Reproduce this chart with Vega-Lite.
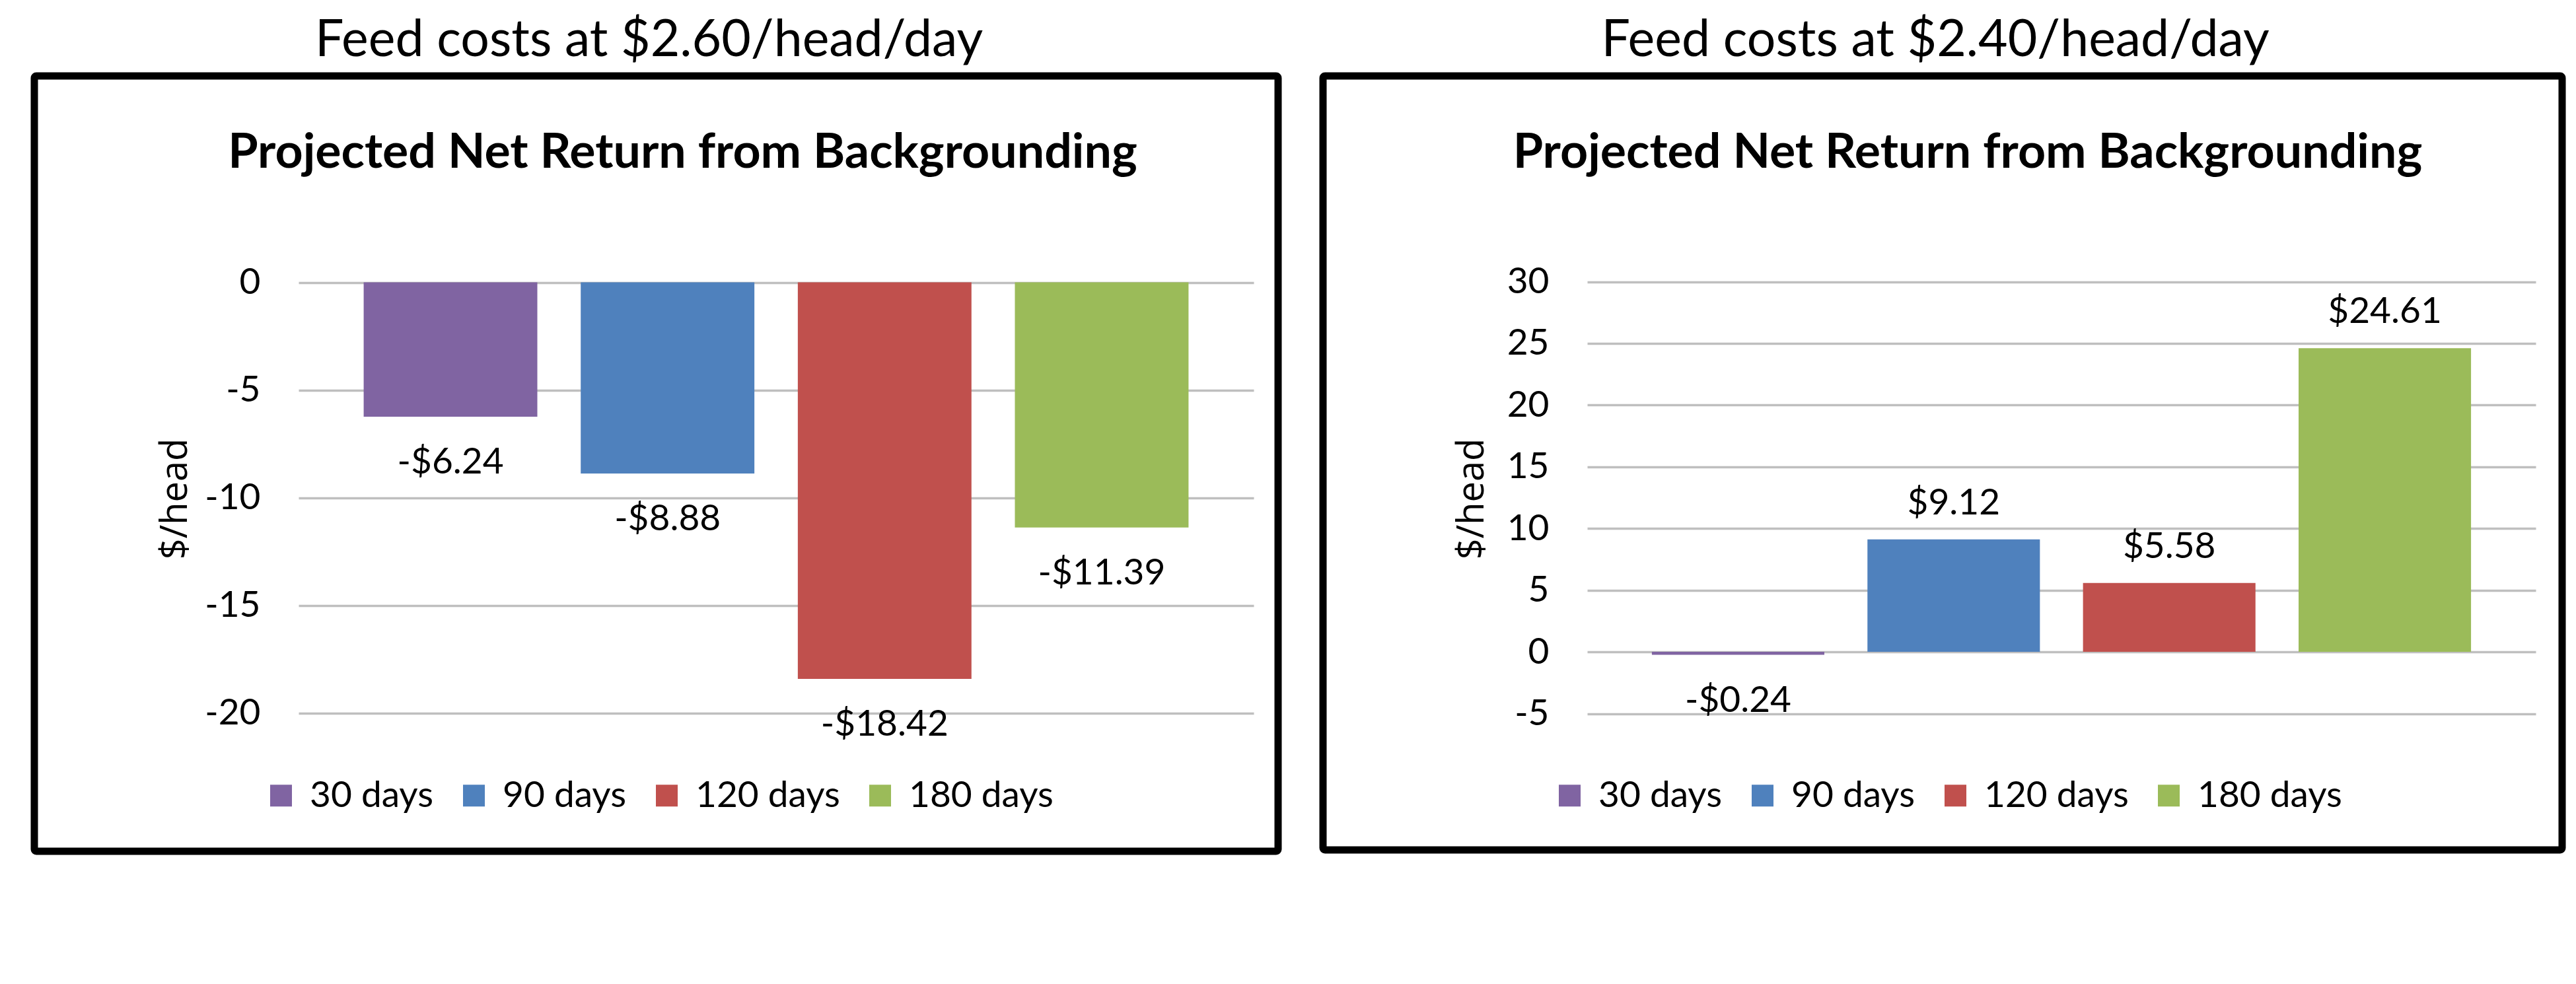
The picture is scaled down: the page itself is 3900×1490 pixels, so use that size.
{
  "$schema": "https://vega.github.io/schema/vega-lite/v6.json",
  "description": "Projected net return from backgrounding at two feed cost levels.",
  "background": "white",
  "padding": {"left": 46, "top": 22, "right": 0, "bottom": 0},
  "spacing": 56,
  "config": {
    "font": "Lato",
    "view": {"stroke": "black", "strokeWidth": 11, "strokeJoin": "round", "cornerRadius": 3, "fill": "white"},
    "axisY": {
      "domain": false,
      "ticks": false,
      "tickSize": 0,
      "labelPadding": -342,
      "labelFont": "Lato",
      "labelFontSize": 55,
      "labelColor": "black",
      "labelExpr": "'' + datum.value",
      "gridColor": "#BFBFBF",
      "gridWidth": 3.5,
      "titleFont": "Open Sans",
      "titleFontSize": 56,
      "titleFontWeight": "normal",
      "titleColor": "black",
      "titleY": 640
    },
    "legend": {
      "orient": "none",
      "legendX": 346,
      "legendY": 1062,
      "direction": "horizontal",
      "columns": 4,
      "title": null,
      "symbolType": "square",
      "symbolSize": 1089,
      "symbolStrokeWidth": 0,
      "symbolOpacity": 1,
      "labelFont": "Lato",
      "labelFontSize": 55,
      "labelColor": "black",
      "labelOffset": 16,
      "labelLimit": 400,
      "columnPadding": 33
    },
    "text": {"font": "Lato", "fontSize": 55, "color": "black", "align": "center"}
  },
  "resolve": {
    "scale": {"x": "independent", "y": "independent", "color": "independent"},
    "legend": {"color": "independent"}
  },
  "hconcat": [
    {
      "title": {"text": "Feed costs at $2.60/head/day", "font": "Lato", "fontSize": 77, "fontWeight": "normal", "baseline": "alphabetic", "offset": -52, "dx": -11, "anchor": "middle", "color": "black"},
      "vconcat": [
        {
          "width": 1883,
          "height": 1174,
          "title": {"text": "Projected Net Return from Backgrounding", "font": "Lato", "fontSize": 73.5, "fontWeight": "bold", "baseline": "alphabetic", "offset": -212, "dx": 40, "anchor": "middle", "frame": "group", "color": "black"},
          "data": {
            "values": [
              {"period": "30 days", "value": -6.24, "label": "-$6.24"},
              {"period": "90 days", "value": -8.88, "label": "-$8.88"},
              {"period": "120 days", "value": -18.42, "label": "-$18.42"},
              {"period": "180 days", "value": -11.39, "label": "-$11.39"}
            ]
          },
          "encoding": {
            "x": {
              "field": "period",
              "type": "nominal",
              "scale": {"domain": ["30 days", "90 days", "120 days", "180 days"], "range": [400, 1846], "paddingInner": 0.2, "paddingOuter": 0.3},
              "axis": null
            },
            "y": {
              "field": "value",
              "type": "quantitative",
              "scale": {"domain": [-20, 0], "range": [964.5, 312.5], "nice": false},
              "axis": {"values": [-20, -15, -10, -5, 0], "title": "$/head", "titleX": 242}
            }
          },
          "layer": [
            {
              "mark": {"type": "bar"},
              "encoding": {
                "color": {
                  "field": "period",
                  "type": "nominal",
                  "scale": {"domain": ["30 days", "90 days", "120 days", "180 days"], "range": ["#8064A2", "#4F81BD", "#C0504D", "#9BBB59"]}
                }
              }
            },
            {
              "transform": [{"filter": "datum.value < 0"}],
              "mark": {"type": "text", "baseline": "alphabetic", "dy": 86},
              "encoding": {"text": {"field": "label", "type": "nominal"}}
            },
            {
              "transform": [{"filter": "datum.value >= 0"}],
              "mark": {"type": "text", "baseline": "alphabetic", "dy": -38},
              "encoding": {"text": {"field": "label", "type": "nominal"}}
            }
          ]
        }
      ]
    },
    {
      "title": {"text": "Feed costs at $2.40/head/day", "font": "Lato", "fontSize": 77, "fontWeight": "normal", "baseline": "alphabetic", "offset": -52, "dx": -11, "anchor": "middle", "color": "black"},
      "vconcat": [
        {
          "width": 1876,
          "height": 1172,
          "title": {"text": "Projected Net Return from Backgrounding", "font": "Lato", "fontSize": 73.5, "fontWeight": "bold", "baseline": "alphabetic", "offset": -212, "dx": 38, "anchor": "middle", "frame": "group", "color": "black"},
          "data": {
            "values": [
              {"period": "30 days", "value": -0.24, "label": "-$0.24"},
              {"period": "90 days", "value": 9.12, "label": "$9.12"},
              {"period": "120 days", "value": 5.58, "label": "$5.58"},
              {"period": "180 days", "value": 24.61, "label": "$24.61"}
            ]
          },
          "encoding": {
            "x": {
              "field": "period",
              "type": "nominal",
              "scale": {"domain": ["30 days", "90 days", "120 days", "180 days"], "range": [400, 1836], "paddingInner": 0.2, "paddingOuter": 0.3},
              "axis": null
            },
            "y": {
              "field": "value",
              "type": "quantitative",
              "scale": {"domain": [-5, 30], "range": [965.5, 311.5], "nice": false},
              "axis": {"values": [-5, 0, 5, 10, 15, 20, 25, 30], "title": "$/head", "titleX": 254}
            }
          },
          "layer": [
            {
              "mark": {"type": "bar"},
              "encoding": {
                "color": {
                  "field": "period",
                  "type": "nominal",
                  "scale": {"domain": ["30 days", "90 days", "120 days", "180 days"], "range": ["#8064A2", "#4F81BD", "#C0504D", "#9BBB59"]}
                }
              }
            },
            {
              "transform": [{"filter": "datum.value < 0"}],
              "mark": {"type": "text", "baseline": "alphabetic", "dy": 86},
              "encoding": {"text": {"field": "label", "type": "nominal"}}
            },
            {
              "transform": [{"filter": "datum.value >= 0"}],
              "mark": {"type": "text", "baseline": "alphabetic", "dy": -38},
              "encoding": {"text": {"field": "label", "type": "nominal"}}
            }
          ]
        }
      ]
    }
  ]
}
